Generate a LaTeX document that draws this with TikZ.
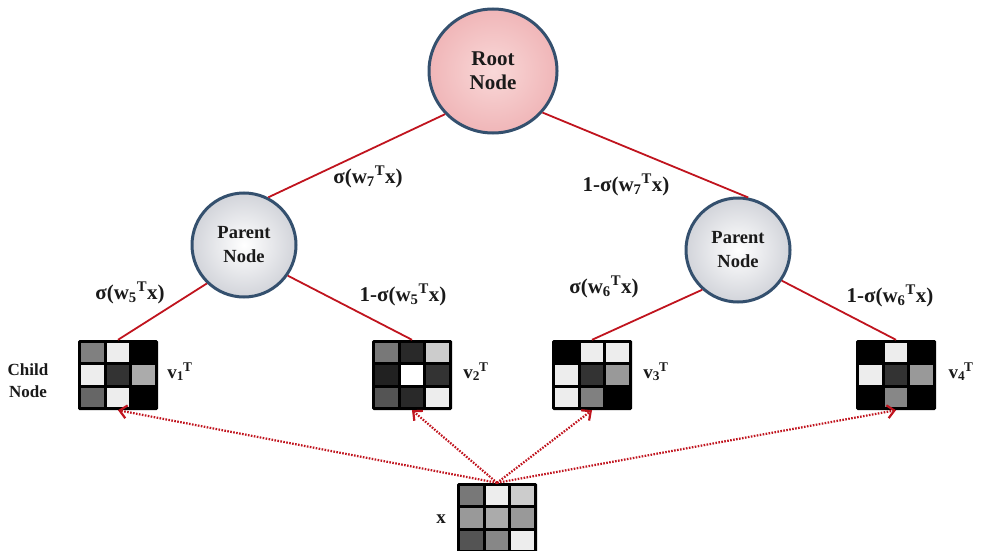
\documentclass[tikz,border=0pt]{standalone}
\usepackage{fontspec}
\setmainfont{Liberation Serif}
\usetikzlibrary{shapes.geometric,arrows.meta}
\definecolor{edgered}{HTML}{C0141E}
\definecolor{ringblue}{HTML}{34506E}
\definecolor{txt}{HTML}{1A1A1A}
\definecolor{rootin}{HTML}{F9D8D8}
\definecolor{rootout}{HTML}{F0B6B8}
\definecolor{parout}{HTML}{D2D4DA}
\newcommand\gridcells[3]{%
  \foreach \g [count=\i from 0] in {#3} {%
    \pgfmathsetmacro\gcx{#1-40+3+mod(\i,3)*(68/3+3)}%
    \pgfmathsetmacro\gcy{#2-35+3+floor(\i/3)*(58/3+3)}%
    \fill[black!\g] (\gcx,\gcy) rectangle ++(68/3,58/3);
  }}
\newcommand\lbl[2]{σ(w\textsubscript{#1}\textsuperscript{T}x)}
\begin{document}
\begin{tikzpicture}[x=1pt,y=-1pt,
  rootnode/.style={ellipse,draw=ringblue,line width=3pt,inner color=rootin,outer color=rootout,
    minimum width=128pt,minimum height=124pt,inner sep=0pt,align=center,text=txt,
    font=\bfseries\fontsize{21}{24}\selectfont},
  parentnode/.style={ellipse,draw=ringblue,line width=3pt,inner color=white,outer color=parout,
    minimum width=104pt,minimum height=104pt,inner sep=0pt,align=center,text=txt,
    font=\bfseries\fontsize{18.5}{24}\selectfont},
  matbox/.style={fill=black,rounded corners=1.5pt,minimum width=80pt,minimum height=70pt,inner sep=0pt},
  edge/.style={edgered,line width=1.8pt},
  probe/.style={edgered,line width=2.2pt,dash pattern=on 1.6pt off 1.4pt,-{Straight Barb[length=7pt,width=13pt,line width=2.2pt]}},
  elabel/.style={text=txt,font=\bfseries\fontsize{21}{24}\selectfont,inner sep=0pt},
  vlabel/.style={text=txt,font=\bfseries\fontsize{19}{22}\selectfont,inner sep=0pt},
  sidelabel/.style={text=txt,font=\bfseries\fontsize{17}{22}\selectfont,align=center,inner sep=0pt}]
\useasboundingbox (0,0) rectangle (982,551);

% nodes
\node[rootnode] (root) at (493,71) {Root\\Node};
\node[parentnode] (lp) at (244,245) {Parent\\Node};
\node[parentnode] (rp) at (738,250) {Parent\\Node};

% matrices
\node[matbox] (v1) at (118,375) {};
\gridcells{118}{375}{50,7,100,7,80,33,60,7,100}
\node[matbox] (v2) at (412,375) {};
\gridcells{412}{375}{53,84,20,87,0,80,67,84,7}
\node[matbox] (v3) at (592,375) {};
\gridcells{592}{375}{100,7,7,7,80,40,7,50,100}
\node[matbox] (v4) at (896,375) {};
\gridcells{896}{375}{100,7,100,7,80,40,100,47,100}
\node[matbox] (x) at (497,518) {};
\gridcells{497}{518}{53,7,20,40,33,40,67,47,7}

% tree edges
\draw[edge] (root.222) -- (lp.63);
\draw[edge] (root.-40) -- (rp.79);
\draw[edge] (lp.226) -- (v1.north);
\draw[edge] (lp.-35) -- (v2.north);
\draw[edge] (rp.228) -- (v3.north);
\draw[edge] (rp.-35) -- (v4.north);

% dotted arrows
\draw[probe] (x.north) -- (v1.south);
\draw[probe] (x.north) -- (v2.south);
\draw[probe] (x.north) -- (v3.south);
\draw[probe] (x.north) -- (v4.south);

% edge labels
\node[elabel] (l7a) at (368,177) {\lbl{7}{}};
\node[elabel] (l7b) at (626,185) {1-\lbl{7}{}};
\node[elabel] (l5a) at (130,293) {\lbl{5}{}};
\node[elabel] (l5b) at (403,295) {1-\lbl{5}{}};
\node[elabel] (l6a) at (604,287) {\lbl{6}{}};
\node[elabel] (l6b) at (890,296) {1-\lbl{6}{}};

% vector labels
\node[vlabel] (t1) at (180,372) {v\textsubscript{1}\kern-1pt\textsuperscript{T}};
\node[vlabel] (t2) at (476,372) {v\textsubscript{2}\kern-1pt\textsuperscript{T}};
\node[vlabel] (t3) at (656,372) {v\textsubscript{3}\kern-1pt\textsuperscript{T}};
\node[vlabel] (t4) at (961,372) {v\textsubscript{4}\kern-1pt\textsuperscript{T}};
\node[vlabel] (tx) at (441,519) {x};
\node[sidelabel] (child) at (28,381) {Child\\Node};
\end{tikzpicture}
\end{document}
